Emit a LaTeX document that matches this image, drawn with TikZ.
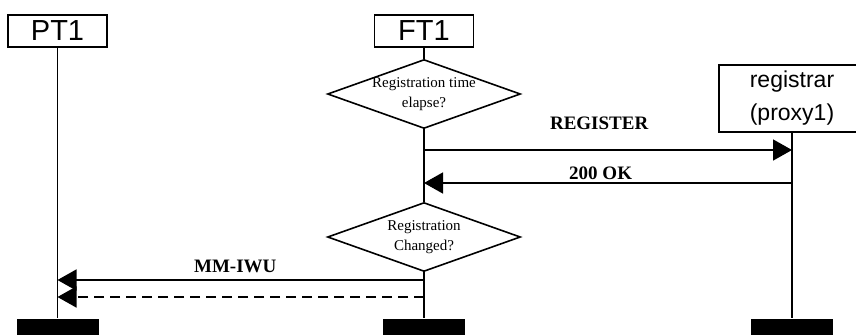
\documentclass[tikz,border=0pt]{standalone}
\usepackage{fontspec}
\setmainfont{Liberation Serif}
\newfontfamily\arialfont{Liberation Sans}
\usetikzlibrary{shapes.geometric,arrows.meta}

\begin{document}
\begin{tikzpicture}[x=1pt,y=-1pt,
entitynode/.style={rectangle, draw, font=\arialfont\fontsize{29}{30}\selectfont, inner sep=0pt, minimum width=99pt, minimum height=32pt},
endnode/.style={rectangle, fill=black, minimum width=82pt, minimum height=16pt, inner sep=0pt},
decisionnode/.style={diamond, draw, align=center, aspect=2.8, font=\fontsize{15}{20}\selectfont, inner xsep=0pt, inner ysep=-2pt, minimum width=193pt, minimum height=69pt},
msg/.style={font=\bfseries\fontsize{19}{20}\selectfont, inner sep=0pt},
line width=1.6pt, >={Triangle[length=19pt,width=21pt]},
]
\useasboundingbox (0,0) rectangle (856,335);
\node[entitynode] (pt1) at (57.5,31) {PT1};
\node[entitynode] (ft1) at (424,31) {FT1};
\node[entitynode, minimum width=146pt, minimum height=67pt, align=center, font=\arialfont\fontsize{23}{33}\selectfont] (reg) at (792,98.5) {registrar\\(proxy1)};
\node[decisionnode] (elapse) at (424,94) {Registration time\\elapse?};
\node[decisionnode] (changed) at (424,237) {Registration\\Changed?};
\node[endnode] (pt1end) at (57.5,327) {};
\node[endnode] (ft1end) at (424,327) {};
\node[endnode] (regend) at (792,327) {};
%%
%% Lifelines
\draw (pt1) -- (pt1end);
\draw (ft1) -- (elapse) -- (changed) -- (ft1end);
\draw (reg) -- (regend);
%%
%% Messages
\coordinate (ft1reg) at (424,150);
\coordinate (regreg) at (792,150);
\coordinate (ft1ok) at (424,183);
\coordinate (regok) at (792,183);
\coordinate (ft1mm) at (424,280);
\coordinate (pt1mm) at (57.5,280);
\coordinate (ft1ack) at (424,297);
\coordinate (pt1ack) at (57.5,297);
\draw[->] (ft1reg) -- node[msg, above=20pt, pos=0.476]{REGISTER}(regreg);
\draw[->] (regok) -- node[msg, above=3pt, pos=0.52]{200 OK}(ft1ok);
\draw[->] (ft1mm) -- node[msg, above=6pt, pos=0.515]{MM-IWU}(pt1mm);
\draw[->, dash pattern=on 10pt off 6pt] (ft1ack) -- (pt1ack);
\end{tikzpicture}
\end{document}
